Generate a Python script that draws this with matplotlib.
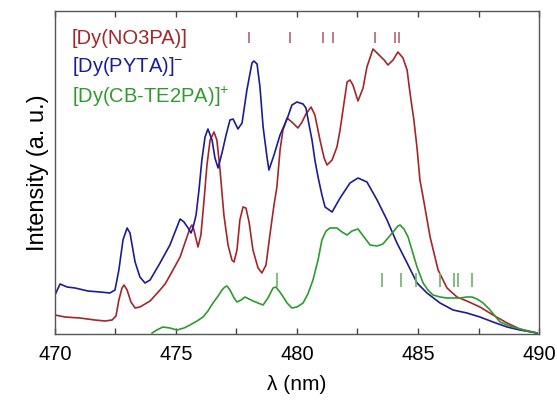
import numpy as np
import matplotlib
matplotlib.use("Agg")
import matplotlib.pyplot as plt
from matplotlib.ticker import MultipleLocator

plt.rcParams['font.family'] = ['Liberation Sans', 'DejaVu Sans']
plt.rcParams['mathtext.fontset'] = 'custom'
plt.rcParams['mathtext.rm'] = 'Liberation Sans'

# Dy(PYTA)- spectrum (wavelength nm, intensity a.u.)
wl_pyta = [470.00, 470.21, 470.50, 470.83, 471.36, 471.86, 472.27, 472.48, 472.64, 472.81,
           472.98, 473.10, 473.31, 473.51, 473.72, 473.93, 474.34, 474.75, 474.96, 475.17,
           475.33, 475.50, 475.62, 475.70, 475.83, 475.95, 476.07, 476.20, 476.32, 476.49,
           476.61, 476.74, 476.90, 477.07, 477.23, 477.36, 477.56, 477.73, 477.93, 478.14,
           478.22, 478.35, 478.47, 478.60, 478.76, 478.84, 479.05, 479.30, 479.59, 479.79,
           480.00, 480.25, 480.37, 480.50, 480.62, 480.74, 480.87, 481.03, 481.16, 481.45,
           481.78, 482.19, 482.52, 482.89, 483.31, 483.72, 484.13, 484.55, 484.96, 485.37,
           485.91, 486.45, 487.02, 487.56, 488.10, 488.68, 489.21, 489.92]
int_pyta = [38, 49, 46, 45, 42, 41, 40, 43, 63, 93,
            105, 100, 71, 56, 50, 53, 70, 88, 101, 114,
            111, 105, 100, 105, 118, 143, 173, 196, 204, 193,
            175, 165, 180, 198, 213, 214, 204, 210, 243, 270,
            272, 269, 246, 206, 176, 163, 178, 198, 214, 228,
            231, 229, 225, 208, 193, 173, 156, 138, 126, 121,
            135, 150, 155, 151, 133, 113, 90, 70, 50, 40,
            30, 23, 20, 16, 11, 6, 3, 0]

# Dy(NO3PA)
wl_no3pa = [470.00, 470.41, 471.03, 471.65, 472.07, 472.36, 472.52, 472.64, 472.77, 472.85,
            472.98, 473.14, 473.31, 473.51, 473.93, 474.34, 474.55, 474.83, 475.17, 475.41,
            475.58, 475.66, 475.74, 475.91, 476.03, 476.16, 476.28, 476.41, 476.57, 476.69,
            476.82, 476.98, 477.15, 477.31, 477.40, 477.52, 477.64, 477.77, 477.89, 478.02,
            478.18, 478.39, 478.55, 478.72, 478.88, 479.05, 479.17, 479.30, 479.42, 479.59,
            479.83, 480.04, 480.21, 480.37, 480.58, 480.74, 480.95, 481.12, 481.24, 481.45,
            481.65, 481.78, 481.90, 482.07, 482.19, 482.31, 482.52, 482.73, 482.89, 483.14,
            483.35, 483.60, 483.76, 483.97, 484.17, 484.38, 484.55, 484.67, 484.83, 484.96,
            485.08, 485.21, 485.50, 485.83, 486.20, 486.61, 487.02, 487.56, 488.10, 488.68,
            489.21, 489.92]
int_no3pa = [18, 16, 15, 13, 12, 13, 17, 33, 45, 48,
             43, 31, 25, 26, 32, 43, 49, 61, 76, 93,
             105, 108, 103, 86, 98, 133, 168, 193, 201, 193,
             163, 118, 88, 73, 71, 83, 113, 126, 125, 111,
             83, 65, 60, 68, 98, 128, 146, 183, 203, 215,
             210, 205, 211, 219, 226, 218, 193, 175, 168, 173,
             186, 203, 223, 251, 253, 248, 232, 245, 266, 284,
             279, 273, 268, 273, 281, 275, 263, 240, 213, 185,
             153, 136, 96, 63, 45, 36, 32, 26, 18, 10,
             4, 0]

# Dy(CB-TE2PA)+
wl_cbte = [474.01, 474.21, 474.46, 474.75, 475.04, 475.33, 475.58, 475.87, 476.12, 476.32,
           476.53, 476.74, 476.90, 477.02, 477.11, 477.23, 477.40, 477.52, 477.69, 477.85,
           478.02, 478.18, 478.39, 478.60, 478.80, 479.01, 479.13, 479.26, 479.38, 479.59,
           479.79, 480.00, 480.25, 480.45, 480.66, 480.87, 481.03, 481.20, 481.36, 481.65,
           481.86, 482.07, 482.27, 482.52, 482.77, 483.02, 483.31, 483.55, 483.76, 483.97,
           484.17, 484.26, 484.42, 484.59, 484.75, 484.96, 485.21, 485.41, 485.62, 485.91,
           486.20, 486.53, 486.74, 487.02, 487.23, 487.44, 487.69, 487.98, 488.18, 488.39,
           488.68, 488.93, 489.21, 489.50, 489.92]
int_cbte = [0, 3, 6, 5, 3, 5, 8, 12, 16, 22,
            30, 37, 43, 46, 47, 43, 35, 31, 33, 36,
            34, 32, 30, 28, 35, 45, 46, 42, 38, 30,
            25, 26, 30, 39, 53, 73, 93, 102, 105, 105,
            101, 98, 102, 104, 96, 88, 87, 89, 95, 101,
            107, 108, 104, 96, 83, 66, 50, 43, 38, 36,
            35, 35, 35, 36, 36, 34, 30, 23, 17, 11,
            8, 6, 4, 2, 0]

# transition markers
marks_no3pa = [478.02, 479.71, 481.07, 481.49, 483.22, 484.05, 484.21]
marks_cbte = [479.17, 483.51, 484.30, 484.92, 485.91, 486.49, 486.65, 487.23]

red = '#a3262a'
blue = '#1c1c94'
green = '#2f9a2f'

fig = plt.figure(figsize=(5.57, 4.0), dpi=100)
ax = fig.add_axes([0.0987, 0.165, 0.869, 0.8075])

ax.plot(wl_no3pa, int_no3pa, color=red, lw=1.2)
ax.plot(wl_pyta, int_pyta, color=blue, lw=1.2)
ax.plot(wl_cbte, int_cbte, color=green, lw=1.2)

ax.vlines(marks_no3pa, 290, 301, color='#b4646e', lw=1.2)
ax.vlines(marks_cbte, 46, 60, color='#6cb26c', lw=1.2)

ax.set_xlim(470, 490)
ax.set_ylim(-1, 322)
ax.xaxis.set_major_locator(MultipleLocator(5))
ax.xaxis.set_minor_locator(MultipleLocator(2.5))
ax.tick_params(axis='x', which='both', direction='in', top=True, length=4,
               width=1, color='#444444', labelsize=14.5, pad=8)
ax.set_yticks([])
for s in ax.spines.values():
    s.set_color('#555555')
    s.set_linewidth(1)

ax.set_xlabel('λ (nm)', fontsize=15, labelpad=8)
ax.set_ylabel('Intensity (a. u.)', fontsize=17, labelpad=4)

ax.text(0.035, 0.916, '[Dy(NO3PA)]', color=red, fontsize=14.5,
        transform=ax.transAxes, va='center')
ax.text(0.035, 0.827, '[Dy(PYTA)]$^{-}$', color=blue, fontsize=14.5,
        transform=ax.transAxes, va='center')
ax.text(0.035, 0.734, '[Dy(CB-TE2PA)]$^{+}$', color=green, fontsize=14.5,
        transform=ax.transAxes, va='center')

fig.savefig('out.png', dpi=100)
